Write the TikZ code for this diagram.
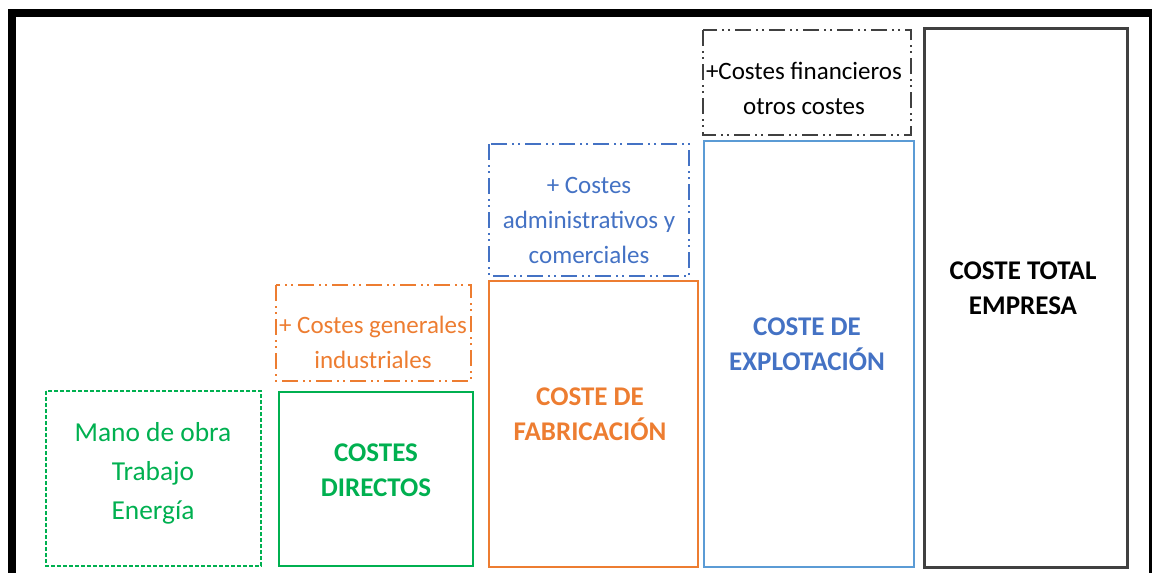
\documentclass[tikz,border=0pt]{standalone}
\usepackage{fontspec}
\setmainfont{Carlito}
\usepackage{tikz}
\usepackage{amssymb}
\usepackage{amsmath}

\definecolor{costgreen}{RGB}{0,176,80}
\definecolor{costorange}{RGB}{237,125,49}
\definecolor{costblue}{RGB}{68,114,196}
\definecolor{costlightblue}{RGB}{91,155,213}
\definecolor{costgray}{RGB}{64,64,64}

\begin{document}
\begin{tikzpicture}[x=0.5pt,y=0.5pt,yscale=-1,xscale=1,
  dashdotdot/.style={dash pattern={on 8pt off 2.5pt on 1pt off 2pt on 1pt off 2.5pt}},
  plaintext/.style={inner sep=0.75pt,align=center,font=\fontsize{12.5}{17.5}\selectfont},
  boldtext/.style={inner sep=0.75pt,align=center,font=\fontsize{13.5}{17.5}\selectfont\bfseries}]
\useasboundingbox (0,0) rectangle (1152,573);

%Shape: Frame
\draw [line width=4pt,line join=miter]  (12,580) -- (12,13) -- (1153,13) -- (1153,580) ;

%Shape: Rectangle
\draw [color=costgreen,line width=1pt,dash pattern={on 2pt off 1pt}]  (46,391) rectangle (261,566) ;
%Shape: Rectangle
\draw [color=costgreen,line width=1pt]  (279,392) rectangle (473,566) ;
%Shape: Rectangle
\draw [color=costorange,line width=1pt,dashdotdot]  (276,285) rectangle (471,381) ;

%Shape: Rectangle
\draw [color=costorange,line width=1pt]  (489,281) rectangle (698,567) ;
%Shape: Rectangle
\draw [color=costblue,line width=1pt,dashdotdot]  (489,144) rectangle (689,276) ;

%Shape: Rectangle
\draw [color=costlightblue,line width=1pt]  (704,141) rectangle (914,567) ;
%Shape: Rectangle
\draw [color=costgray,line width=1pt,dashdotdot]  (703,30) rectangle (911,135) ;

%Shape: Rectangle
\draw [color=costgray,line width=1.5pt]  (924,28) rectangle (1127,567) ;

% Text Node
\draw (153,473) node (mano) [inner sep=0.75pt,align=center,text=costgreen,font=\fontsize{13.7}{19.5}\selectfont] {Mano de obra\\Trabajo\\Energía};
% Text Node
\draw (376,470) node (directos) [boldtext,text=costgreen] {COSTES\\DIRECTOS};
% Text Node
\draw (373,342) node (generales) [plaintext,text=costorange] {+ Costes generales\\industriales};
% Text Node
\draw (590,414) node (fabricacion) [boldtext,text=costorange] {COSTE DE\\FABRICACIÓN};
% Text Node
\draw (589,220) node (administrativos) [plaintext,text=costblue] {+ Costes\\administrativos y\\comerciales};
% Text Node
\draw (807,344) node (explotacion) [boldtext,text=costblue] {COSTE DE\\EXPLOTACIÓN};
% Text Node
\draw (804,88) node (financieros) [plaintext,text=black] {+Costes financieros\\otros costes};
% Text Node
\draw (1023,288) node (total) [boldtext,text=black] {COSTE TOTAL\\EMPRESA};

\end{tikzpicture}
\end{document}
